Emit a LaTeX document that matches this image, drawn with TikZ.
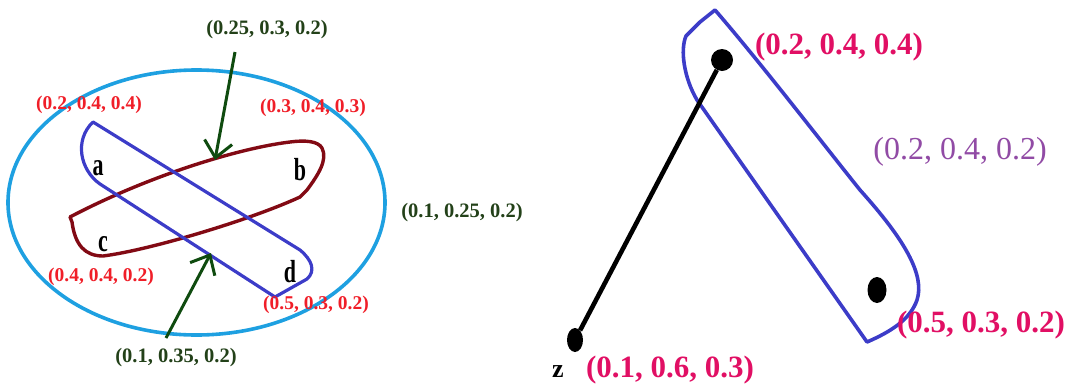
\documentclass[tikz,border=0pt]{standalone}
\usepackage{fontspec}
\setmainfont{Liberation Serif}
\usetikzlibrary{arrows.meta,shapes.geometric}
\definecolor{sky}{RGB}{30,160,225}
\definecolor{loopblue}{RGB}{60,60,200}
\definecolor{maroon}{RGB}{130,10,20}
\definecolor{lred}{RGB}{240,30,40}
\definecolor{dgreen}{RGB}{15,75,15}
\definecolor{tgreen}{RGB}{35,65,25}
\definecolor{mag}{RGB}{225,15,100}
\definecolor{purp}{RGB}{145,75,165}
\tikzset{
  smalllab/.style={inner sep=0pt, font=\fontsize{19.5}{20}\selectfont\bfseries},
  greenlab/.style={inner sep=0pt, text=tgreen, font=\fontsize{20.5}{21}\selectfont\bfseries},
  biglab/.style={inner sep=0pt, font=\fontsize{31}{32}\selectfont\bfseries},
  letter/.style={inner sep=0pt, font=\fontsize{22}{22}\selectfont\bfseries},
  garrow/.style={draw=dgreen, line width=3pt, -{Straight Barb[length=16pt,width=28pt,line width=3pt]}},
  dot/.style={ellipse, fill=black, inner sep=0pt},
}
\begin{document}
\begin{tikzpicture}[x=1pt,y=-1pt]
\useasboundingbox (0,0) rectangle (1067,386);
% ---------- left diagram ----------
\draw[sky, line width=3.6pt] (196.5,202.5) ellipse [x radius=188.5, y radius=132.5];
% maroon loop
\draw[maroon, line width=3.4pt, line join=round]
  (70,217) -- (72,222) .. controls (75,245) and (85,256) .. (103,256)
  .. controls (150,250) and (250,220) .. (300,197) -- (307,190)
  .. controls (318,175) and (328,160) .. (322,148)
  .. controls (318,141) and (305,140) .. (290,142)
  .. controls (240,148) and (150,175) .. cycle;
% blue loop
\draw[loopblue, line width=3.2pt, line join=round]
  (93,122) -- (300,250) .. controls (312,260) and (316,271) .. (307,279)
  -- (275,297) -- (100,184) .. controls (80,170) and (74,140) .. cycle;
% letters
\node[letter] (la) at (98,168) {\scalebox{1}[1.45]{a}};
\node[letter] (lb) at (300,170) {\scalebox{1}[1.45]{b}};
\node[letter] (lc) at (103,244) {\scalebox{1}[1.45]{c}};
\node[letter] (ld) at (290,272) {\scalebox{1}[1.45]{d}};
% labels
\node[smalllab, text=lred] (l1) at (89,105) {(0.2, 0.4, 0.4)};
\node[smalllab, text=lred] (l2) at (313,108) {(0.3, 0.4, 0.3)};
\node[smalllab, text=lred] (l3) at (101,277) {(0.4, 0.4, 0.2)};
\node[smalllab, text=lred] (l4) at (316,305) {(0.5, 0.3, 0.2)};
\node[greenlab] (g1) at (267,30) {(0.25, 0.3, 0.2)};
\node[greenlab] (g2) at (462,213) {(0.1, 0.25, 0.2)};
\node[greenlab] (g3) at (176,358) {(0.1, 0.35, 0.2)};
% green arrows
\coordinate (a1s) at (235,52);
\coordinate (a1t) at (215,160);
\coordinate (a2s) at (166,338);
\coordinate (a2t) at (211,253);
\draw[garrow] (a1s) -- (a1t);
\draw[garrow] (a2s) -- (a2t);
% ---------- right diagram ----------
\draw[loopblue, line width=3.6pt, line join=round]
  (715,10) .. controls (760,62) and (820,140) .. (860,190)
  .. controls (905,240) and (925,275) .. (917,300)
  .. controls (910,320) and (890,332) .. (867,342) -- (697,100)
  .. controls (684,78) and (680,50) .. (686,36) -- (700,22) -- cycle;
\node[dot, minimum width=22pt, minimum height=22pt] (dt) at (722,60) {};
\node[dot, minimum width=19pt, minimum height=26pt] (db) at (877,290) {};
\node[dot, minimum width=16pt, minimum height=24pt] (dz) at (575,340) {};
\draw[black, line width=4.6pt] (dt) -- (dz);
\node[biglab, text=mag] (r1) at (839,47) {(0.2, 0.4, 0.4)};
\node[inner sep=0pt, font=\fontsize{32}{32}\selectfont, text=purp] (r2) at (960,152) {(0.2, 0.4, 0.2)};
\node[biglab, text=mag] (r3) at (981,325) {(0.5, 0.3, 0.2)};
\node[biglab, text=mag] (r4) at (670,370) {(0.1, 0.6, 0.3)};
\node[inner sep=0pt, font=\fontsize{26}{26}\selectfont\bfseries] (z) at (558,372) {z};
\end{tikzpicture}
\end{document}
